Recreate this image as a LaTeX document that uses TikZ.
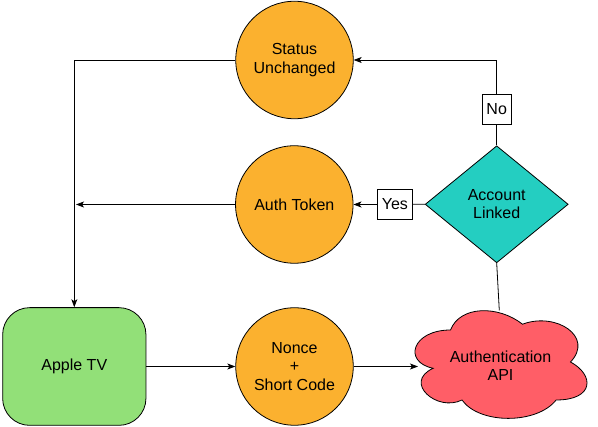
\documentclass[tikz,border=0pt]{standalone}
\usepackage{fontspec}
\setmainfont{Liberation Sans}
\usetikzlibrary{shapes.geometric,arrows.meta}
\definecolor{orangeF}{RGB}{251,177,47}
\definecolor{greenF}{RGB}{146,224,120}
\definecolor{tealF}{RGB}{36,206,193}
\definecolor{redF}{RGB}{255,94,103}
\begin{document}
\begin{tikzpicture}[x=1pt,y=-1pt,
  font=\fontsize{16}{18.4}\selectfont,
  circ/.style={circle,draw=black,line width=0.8pt,fill=orangeF,minimum size=117.5pt,inner sep=0pt,align=center},
  tvbox/.style={rectangle,draw=black,line width=0.8pt,fill=greenF,rounded corners=27pt,minimum width=143.3pt,minimum height=117.7pt,inner sep=0pt,align=center},
  decide/.style={diamond,draw=black,line width=0.8pt,fill=tealF,minimum width=143pt,minimum height=117pt,inner sep=0pt,aspect=1.22,align=center},
  lbl/.style={rectangle,draw=black,line width=0.8pt,fill=white,minimum height=30pt,inner xsep=4.5pt,inner ysep=0pt},
  conn/.style={line width=0.8pt,draw=black},
  arr/.style={conn,-{Stealth[length=8pt,width=6pt,inset=2pt]}}
]
\useasboundingbox (0,0) rectangle (598,427);

% nodes
\node[circ] (status) at (294.5,60) {Status\\Unchanged};
\node[circ] (auth) at (294.3,204.5) {Auth Token};
\node[circ] (nonce) at (294.5,366.5) {Nonce\\+\\Short Code};
\node[tvbox] (tv) at (74.3,366.5) {Apple TV};
\node[decide] (acc) at (496.7,204.3) {Account\\Linked};

% cloud
\path[draw=black,line width=0.8pt,fill=redF]
  (450.5,330) .. controls (412.1,330) and (402.5,362) .. (433.2,368.3)
  .. controls (402.5,382.2) and (437.1,412.5) .. (462.0,400)
  .. controls (479.3,424.5) and (536.9,424.5) .. (556.1,400)
  .. controls (594.5,400) and (594.5,374.9) .. (570.5,362)
  .. controls (594.5,336.8) and (556.1,311.6) .. (522.5,324.2)
  .. controls (498.5,305.3) and (460.1,305.3) .. (450.5,330) -- cycle;
\node[align=center,inner sep=0pt] (api) at (500.5,366) {Authentication\\API};
\coordinate (apiL) at (418,366.5);
\coordinate (apiT) at (499.3,310.5);
\coordinate (tok) at (76,204.5);

% connectors
\draw[arr] (tv.east) -- (nonce.west);
\draw[arr] (nonce.east) -- (apiL);
\draw[conn] (acc.south) -- (apiT);
\draw[arr] (acc.north) |- node[lbl,pos=0.21] (no) {No} (status.east);
\draw[arr] (acc.west) -- node[lbl,pos=0.42] (yes) {Yes} (auth.east);
\draw[arr] (status.west) -| (tv.north);
\draw[arr] (auth.west) -- (tok);
\end{tikzpicture}
\end{document}
